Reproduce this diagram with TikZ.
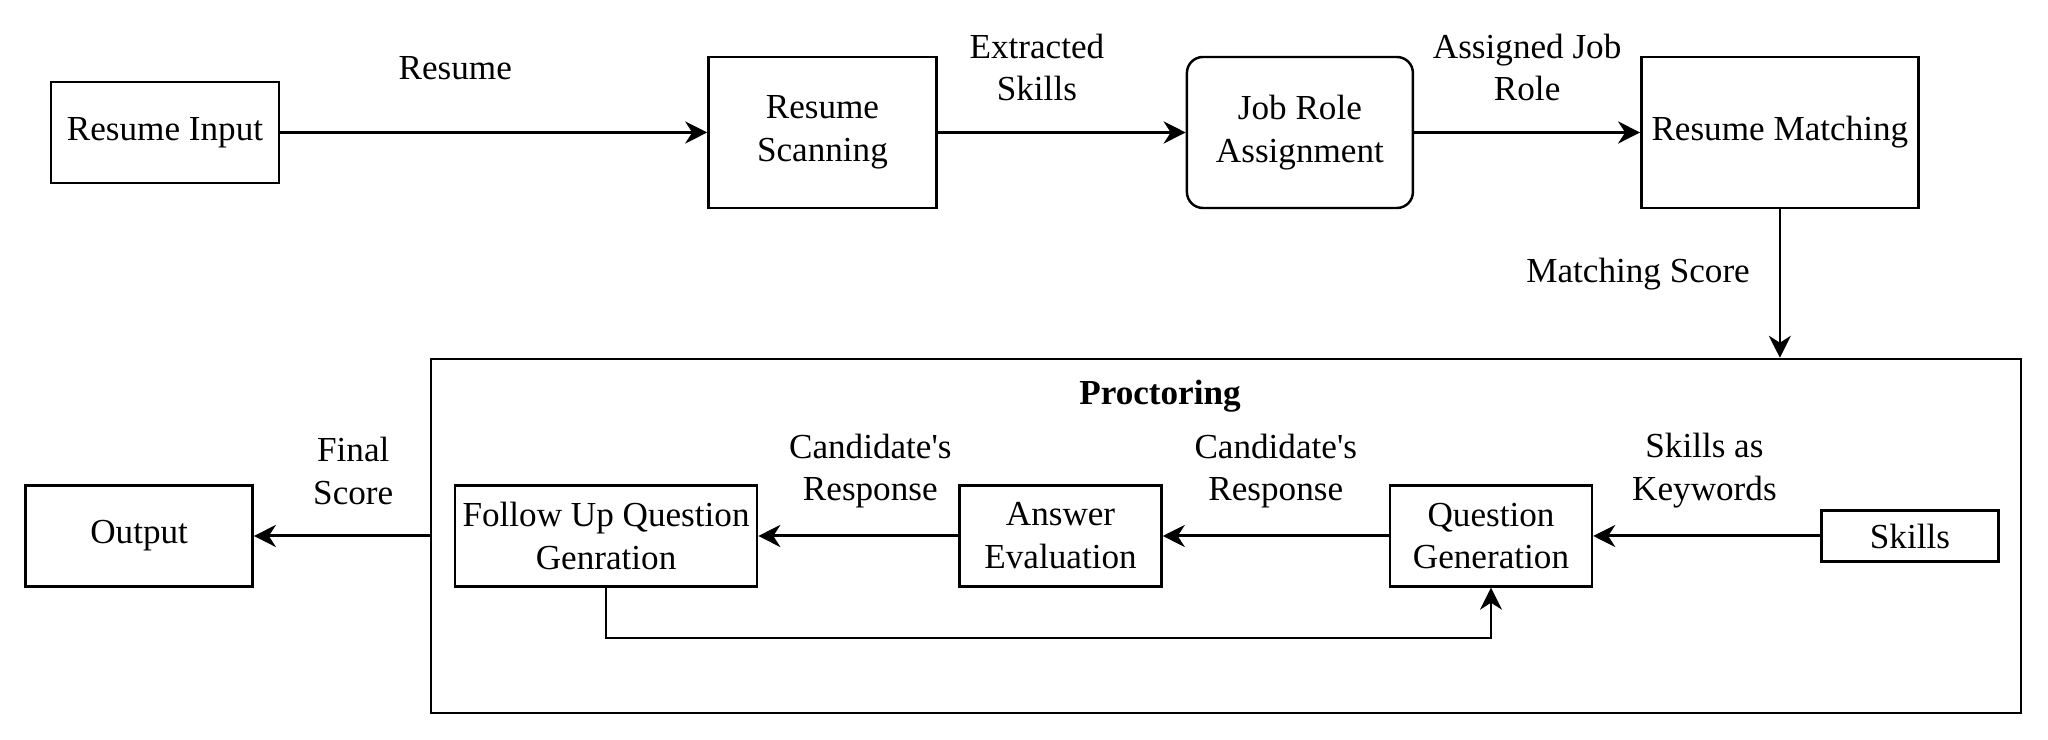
\documentclass[tikz,border=0pt]{standalone}
\usepackage{fontspec}
\setmainfont{Liberation Serif}
\usetikzlibrary{arrows.meta,positioning}

\begin{document}
\begin{tikzpicture}[node distance=20mm, every node/.style={font=\fontsize{10}{12.2}\selectfont},
  blk/.style={draw,line width=0.7pt,minimum height=10.1mm,inner sep=2pt,inner xsep=1pt,align=center},
  tall/.style={blk,minimum height=15.1mm},
  rnd/.style={tall,rounded corners=1.6mm},
  frm/.style={draw,line width=0.7pt,minimum width=159mm,minimum height=35.4mm,inner sep=0pt},
  lbl/.style={align=center,inner sep=0pt},
  ttl/.style={font=\fontsize{10}{12.2}\selectfont\bfseries,inner sep=0pt},
  ar/.style={-{Stealth[length=2.2mm,width=2.2mm,inset=0.7mm]},line width=0.85pt},
  thin/.style={-{Stealth[length=2.2mm,width=2.2mm,inset=0.7mm]},line width=0.6pt}]

\useasboundingbox (0,0) rectangle (204.8mm,-74mm);

\node[blk,minimum width=22.8mm] (ri) at (16.5mm,-13.25mm) {Resume Input};
\node[tall,minimum width=22.8mm,right=42.7mm of ri] (rs) {Resume\\Scanning};
\node[rnd,minimum width=22.6mm,right=24.8mm of rs] (jr) {Job Role\\Assignment};
\node[tall,minimum width=27.7mm,right=22.6mm of jr] (rm) {Resume Matching};

\draw[ar] (ri) -- node[lbl,pos=0.41,yshift=6.4mm] {Resume} (rs);
\draw[ar] (rs) -- node[lbl,pos=0.40,yshift=6.5mm] {Extracted\\Skills} (jr);
\draw[ar] (jr) -- node[lbl,pos=0.50,yshift=6.5mm] {Assigned Job\\Role} (rm);

% proctoring stage
\node[frm] (pr) at (122.6mm,-53.6mm) {};
\node[ttl] (pt) at ([xshift=-6.6mm,yshift=-3.8mm]pr.north) {Proctoring};

\node[blk,minimum width=20.2mm] (qg) at (149.1mm,-53.6mm) {Question\\Generation};
\node[blk,minimum width=17.7mm,minimum height=5.1mm,right=22.7mm of qg] (sk) {Skills};
\node[blk,minimum width=20.2mm,left=22.6mm of qg] (ae) {Answer\\Evaluation};
\node[blk,minimum width=30.2mm,left=20.0mm of ae] (fu) {Follow Up Question\\Genration};
\node[blk,minimum width=22.7mm,left=20.0mm of fu] (out) {Output};

\draw[thin] (rm.south) -- node[lbl,pos=0.44,left=2.9mm] {Matching Score} (rm.south |- pr.north);

\foreach \a/\b/\p/\t in {sk/qg/0.51/{Skills as\\Keywords},
  qg/ae/0.50/{Candidate\textquotesingle s\\Response},
  ae/fu/0.44/{Candidate\textquotesingle s\\Response},
  pr.west/out/0.435/{Final\\Score}}
  \draw[ar] (\a) -- node[lbl,pos=\p,yshift=6.5mm] {\t} (\b);

\draw[thin] (fu.south) -- ++(0,-5mm) -| (qg.south);
\end{tikzpicture}
\end{document}
